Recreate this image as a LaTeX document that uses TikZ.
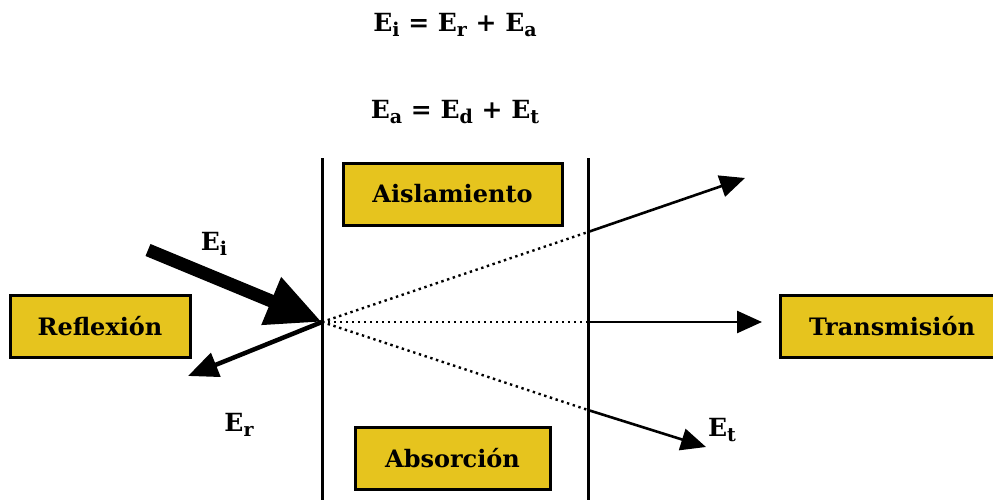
\documentclass[tikz,border=0pt]{standalone}
\usepackage{fontspec}
\setmainfont{DejaVu Serif}
\usepackage{xcolor}
\usetikzlibrary{arrows.meta, positioning, calc}
\definecolor{boxgold}{HTML}{E6C41E}
\newcommand{\lowidx}[1]{\raisebox{-0.22em}{\fontsize{19}{20}\selectfont #1}}

\begin{document}
\begin{tikzpicture}[x=1pt, y=-1pt,
  labelbox/.style={draw=black, line width=3pt, fill=boxgold, minimum height=62pt, inner sep=0pt, font=\bfseries\fontsize{24}{28}\selectfont},
  elabel/.style={inner sep=0pt, font=\bfseries\fontsize{25}{29}\selectfont},
  wall/.style={line width=3pt},
  ray/.style={line width=2.6pt, -{Triangle[length=25pt, width=22pt]}},
  inner ray/.style={line width=2.4pt, dash pattern=on 2.4pt off 3.6pt}]
  \useasboundingbox (0,0) rectangle (993,500);

  % equations
  \node[elabel] (eqone) at (455,25) {E\lowidx{i} = E\lowidx{r} + E\lowidx{a}};
  \node[elabel] (eqtwo) at (455,112) {E\lowidx{a} = E\lowidx{d} + E\lowidx{t}};

  % walls of the material
  \draw[wall] (322,158) coordinate (wlt) -- (322,502) coordinate (wlb);
  \draw[wall] (588,158) coordinate (wrt) -- (588,502) coordinate (wrb);

  % boxes
  \node[labelbox, minimum width=180pt] (reflex) at (100,326) {Reflexión};
  \node[labelbox, minimum width=219pt] (aisla) at (452.5,194) {Aislamiento};
  \node[labelbox, minimum width=195pt] (absor) at (452.5,458.5) {Absorción};
  \node[labelbox, minimum width=224pt] (trans) at (892,326) {Transmisión};

  % rays
  \coordinate (src) at (322,322);
  \coordinate (inc) at (148,250);
  \coordinate (refl) at (188,376);
  \coordinate (up) at (588,232);
  \coordinate (mid) at (588,322);
  \coordinate (low) at (588,410);
  \coordinate (uptip) at (745,178);
  \coordinate (midtip) at (762,322);
  \coordinate (lowtip) at (706,447);

  \draw[line width=13pt, -{Triangle[length=55pt, width=48pt]}] (inc) -- (src);
  \draw[line width=4.5pt, -{Triangle[length=30pt, width=25pt]}] (src) -- (refl);

  \draw[inner ray] (src) -- (up);
  \draw[inner ray] (src) -- (mid);
  \draw[inner ray] (src) -- (low);
  \draw[ray] (up) -- (uptip);
  \draw[ray] (mid) -- (midtip);
  \draw[ray] (low) -- (lowtip);

  % ray labels
  \node[elabel] (ei) at (214,244) {E\lowidx{i}};
  \node[elabel] (er) at (239,425) {E\lowidx{r}};
  \node[elabel] (et) at (722,430) {E\lowidx{t}};
\end{tikzpicture}
\end{document}
